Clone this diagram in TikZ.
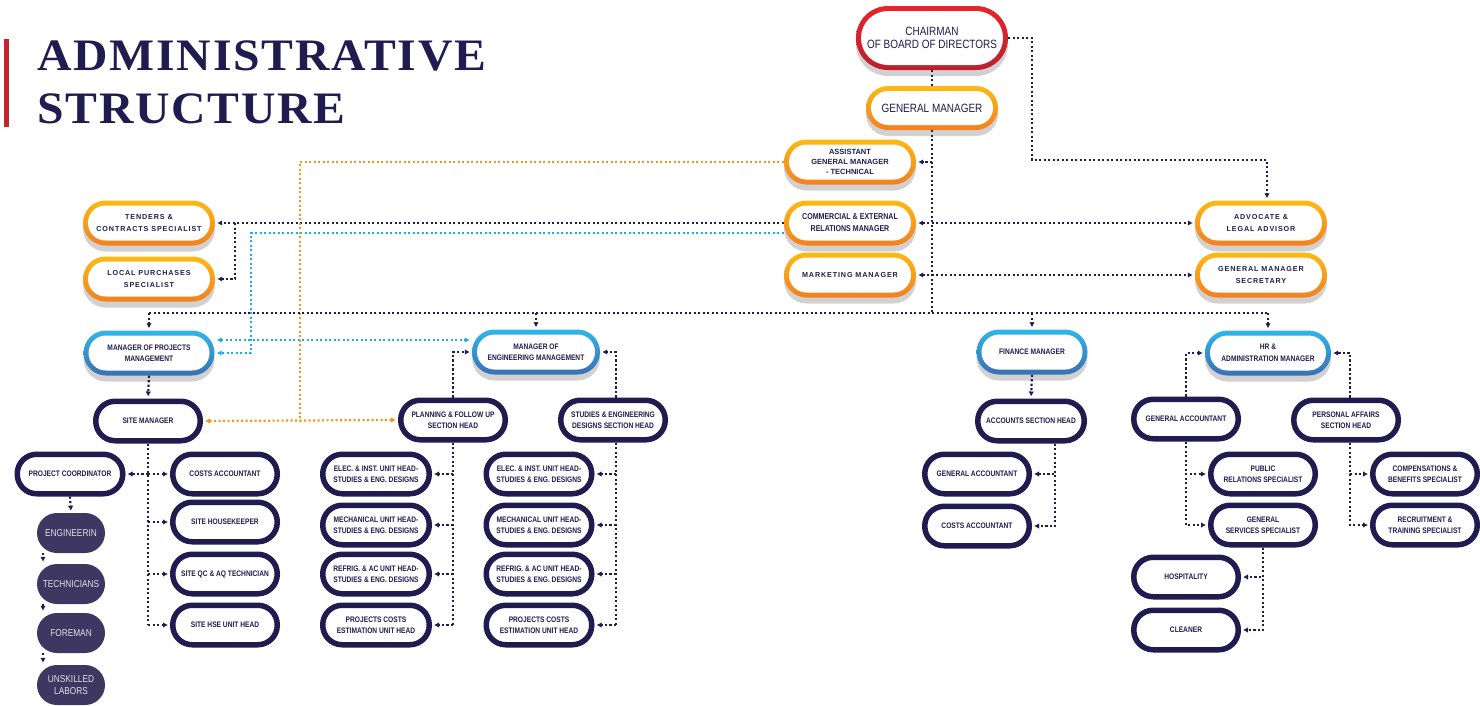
\documentclass[tikz,border=0pt]{standalone}
\usepackage{fontspec}
\setmainfont{Liberation Sans}
\newfontfamily\condfont[FakeStretch=0.83]{Liberation Sans}
\newfontfamily\widefont[LetterSpace=12]{Liberation Sans}
\newfontfamily\titlefont[FakeStretch=1.06,LetterSpace=4]{Liberation Serif}
\usetikzlibrary{arrows.meta, shadows}

\definecolor{navy}{HTML}{201C4F}
\definecolor{plum}{HTML}{3D3762}
\definecolor{barred}{HTML}{C0272D}
\definecolor{redtop}{HTML}{E6262B}
\definecolor{redbot}{HTML}{BD1E2C}
\definecolor{oyel}{HTML}{FDB913}
\definecolor{oorg}{HTML}{F3801F}
\definecolor{lblue}{HTML}{2FB6E9}
\definecolor{dblue}{HTML}{3A70B6}
\definecolor{olink}{HTML}{F7941D}
\definecolor{clink}{HTML}{1DADE6}

\tikzset{
  gbox/.style n args={4}{rectangle, rounded corners=#2/2*1pt, minimum width=#1*1pt, minimum height=#2*1pt,
    inner sep=0pt, align=center, text=navy, top color=#3, bottom color=#4,
    drop shadow={shadow xshift=0pt, shadow yshift=-6pt, opacity=.18, fill=black},
    path picture={\node[rectangle, fill=white, rounded corners=(#2-10)/2*1pt, minimum width=(#1-10)*1pt,
      minimum height=(#2-10)*1pt, inner sep=0pt] at (path picture bounding box.center) {};}},
  redbox/.style={gbox={152}{64}{redtop}{redbot}},
  orbox/.style={gbox={132}{#1}{oyel}{oorg}},
  orbox/.default=45,
  blbox/.style={gbox={#1}{45}{lblue}{dblue}},
  dkbox/.style={rectangle, rounded corners=19.5pt, draw=navy, line width=5.5pt, fill=white,
    minimum width=#1*1pt-5.5pt, minimum height=39.5pt, inner sep=0pt, align=center, text=navy, cond},
  dkbox/.default=110,
  plbox/.style={rectangle, rounded corners=20pt, fill=plum, minimum width=68pt, minimum height=40pt,
    inner sep=0pt, align=center, text=white!85!plum, font=\condfont\fontsize{10}{11.5}\selectfont},
  titletext/.style={anchor=base west, inner sep=0pt, text=navy, font=\titlefont\bfseries\fontsize{45}{48}\selectfont},
  bigtext/.style={font=\condfont\fontsize{12}{13}\selectfont},
  agmtext/.style={font=\bfseries\fontsize{7.5}{10}\selectfont},
  comtext/.style={font=\condfont\bfseries\fontsize{8.5}{12}\selectfont},
  widetext/.style={font=\widefont\bfseries\fontsize{7.2}{12}\selectfont},
  cond/.style={font=\condfont\bfseries\fontsize{8}{11.5}\selectfont},
  link/.style={navy, line width=2.2pt, dash pattern=on 2.2pt off 2.3pt},
  blink/.style={link, clink},
  olnk/.style={link, olink},
  arr/.style={-{Latex[length=5pt,width=5.5pt]}, shorten >=2pt},
  darr/.style={{Latex[length=5pt,width=5.5pt]}-{Latex[length=5pt,width=5.5pt]}, shorten >=2pt, shorten <=2pt}
}

\begin{document}
\begin{tikzpicture}[x=1pt, y=-1pt]
\useasboundingbox (0,0) rectangle (1480,705);

\fill[barred] (4,39) rectangle (9,127);
\node[titletext] (title1) at (37,70) {ADMINISTRATIVE};
\node[titletext] (title2) at (37,123) {STRUCTURE};

\node[redbox, bigtext] (chair) at (932,38) {CHAIRMAN\\OF BOARD OF DIRECTORS};
\node[orbox=44, bigtext] (gm) at (932,108) {GENERAL MANAGER};
\node[orbox, agmtext] (agm) at (850,162) {ASSISTANT\\GENERAL MANAGER\\- TECHNICAL};
\node[orbox, comtext] (com) at (850,223) {COMMERCIAL \& EXTERNAL\\RELATIONS MANAGER};
\node[orbox, widetext] (mkt) at (850,275) {MARKETING MANAGER};
\node[orbox, widetext] (adv) at (1261,223) {ADVOCATE \&\\LEGAL ADVISOR};
\node[orbox, widetext] (sec) at (1261,275) {GENERAL MANAGER\\SECRETARY};
\node[orbox, widetext] (ten) at (149,223) {TENDERS \&\\CONTRACTS SPECIALIST};
\node[orbox, widetext] (lp) at (149,279) {LOCAL PURCHASES\\SPECIALIST};

\node[blbox=131, cond] (pm) at (149,353) {MANAGER OF PROJECTS\\MANAGEMENT};
\node[blbox=128, cond] (em) at (536,352) {MANAGER OF\\ENGINEERING MANAGEMENT};
\node[blbox=111, cond] (fm) at (1032,352) {FINANCE MANAGER};
\node[blbox=126, cond] (hr) at (1268,353) {HR \&\\ADMINISTRATION MANAGER};

\node[dkbox] (sm) at (148,421) {SITE MANAGER};
\node[dkbox] (pl) at (453,420) {PLANNING \& FOLLOW UP\\SECTION HEAD};
\node[dkbox] (st) at (613,420) {STUDIES \& ENGINEERING\\DESIGNS SECTION HEAD};
\node[dkbox=112] (ash) at (1031,421) {ACCOUNTS SECTION HEAD};
\node[dkbox] (hga) at (1186,419) {GENERAL ACCOUNTANT};
\node[dkbox] (pa) at (1346,420) {PERSONAL AFFAIRS\\SECTION HEAD};

\node[dkbox=111] (pc) at (70,474) {PROJECT COORDINATOR};
\node[dkbox] (ca) at (225,474) {COSTS ACCOUNTANT};
\node[dkbox] (shk) at (225,522) {SITE HOUSEKEEPER};
\node[dkbox] (sqc) at (225,574) {SITE QC \& AQ TECHNICIAN};
\node[dkbox] (hse) at (225,625) {SITE HSE UNIT HEAD};

\node[plbox] (eng) at (71,533) {ENGINEERIN};
\node[plbox] (tech) at (71,584) {TECHNICIANS};
\node[plbox] (fore) at (71,633) {FOREMAN};
\node[plbox] (unsk) at (71,685) {UNSKILLED\\LABORS};

\node[dkbox=112] (pe) at (376,474) {ELEC. \& INST. UNIT HEAD-\\STUDIES \& ENG. DESIGNS};
\node[dkbox=112] (pmh) at (376,525) {MECHANICAL UNIT HEAD-\\STUDIES \& ENG. DESIGNS};
\node[dkbox=112] (pr) at (376,574) {REFRIG. \& AC UNIT HEAD-\\STUDIES \& ENG. DESIGNS};
\node[dkbox=112] (pcost) at (376,625) {PROJECTS COSTS\\ESTIMATION UNIT HEAD};
\node[dkbox=111] (se) at (539,474) {ELEC. \& INST. UNIT HEAD-\\STUDIES \& ENG. DESIGNS};
\node[dkbox=111] (smh) at (539,525) {MECHANICAL UNIT HEAD-\\STUDIES \& ENG. DESIGNS};
\node[dkbox=111] (sr) at (539,574) {REFRIG. \& AC UNIT HEAD-\\STUDIES \& ENG. DESIGNS};
\node[dkbox=111] (scost) at (539,625) {PROJECTS COSTS\\ESTIMATION UNIT HEAD};

\node[dkbox] (fga) at (977,474) {GENERAL ACCOUNTANT};
\node[dkbox] (fca) at (977,526) {COSTS ACCOUNTANT};
\node[dkbox] (prs) at (1263,474) {PUBLIC\\RELATIONS SPECIALIST};
\node[dkbox] (gss) at (1263,525) {GENERAL\\SERVICES SPECIALIST};
\node[dkbox] (hosp) at (1186,577) {HOSPITALITY};
\node[dkbox] (cln) at (1186,630) {CLEANER};
\node[dkbox] (cbs) at (1425,474) {COMPENSATIONS \&\\BENEFITS SPECIALIST};
\node[dkbox] (rts) at (1425,525) {RECRUITMENT \&\\TRAINING SPECIALIST};

\coordinate (hub) at (932,313);
\coordinate (c1) at (1032,160);
\coordinate (tb) at (235,223);
\coordinate (bl) at (251,353);
\coordinate (oj) at (300,421);

\draw[link] (chair.south) -- (gm.north);
\draw[link, arr] (chair.east) -| (c1) -| ([xshift=6pt]adv.north);
\draw[link] (gm.south) -- (hub);
\draw[link, arr] (gm.south |- agm.east) -- (agm.east);
\draw[link, darr] (com.east) -- (adv.west);
\draw[link, darr] (mkt.east) -- (sec.west);
\draw[link, arr] (com.west) -- (ten.east);
\draw[link, arr] (tb) |- (lp.east);
\draw[blink, arr] ([yshift=-10pt]com.west) -| (bl) -- (pm.east);
\draw[blink, darr] ([yshift=13pt]pm.east) -- ([yshift=12pt]em.west);
\draw[olnk] (agm.west) -| (oj);
\draw[olnk, darr] (sm.east) -- (pl.west);

\draw[link] (pm.north |- hub) -- (hr.north |- hub);
\draw[link, arr] (pm.north |- hub) -- (pm.north);
\draw[link, arr] (em.north |- hub) -- (em.north);
\draw[link, arr] (fm.north |- hub) -- (fm.north);
\draw[link, arr] (hr.north |- hub) -- (hr.north);

\draw[link, arr] (pm.south) -- (sm.north);
\draw[link, arr] (pl.north) |- (em.west);
\draw[link, arr] ([xshift=3pt]st.north) |- (em.east);

\draw[link] (sm.south) -- (sm.south |- hse.west);
\draw[link, arr] (sm.south |- pc.east) -- (pc.east);
\draw[link, arr] (sm.south |- ca.west) -- (ca.west);
\draw[link, arr] (sm.south |- shk.west) -- (shk.west);
\draw[link, arr] (sm.south |- sqc.west) -- (sqc.west);
\draw[link, arr] (sm.south |- hse.west) -- (hse.west);

\draw[link, arr] (pc.south) -- (eng.north);
\draw[link, arr] ([xshift=-28pt]eng.south) -- ([xshift=-28pt]tech.north);
\draw[link, arr] ([xshift=-28pt]tech.south) -- ([xshift=-28pt]fore.north);
\draw[link, arr] ([xshift=-28pt]fore.south) -- ([xshift=-28pt]unsk.north);

\draw[link] (pl.south) -- (pl.south |- pcost.east);
\draw[link, arr] (pl.south |- pe.east) -- (pe.east);
\draw[link, arr] (pl.south |- pmh.east) -- (pmh.east);
\draw[link, arr] (pl.south |- pr.east) -- (pr.east);
\draw[link, arr] (pl.south |- pcost.east) -- (pcost.east);

\draw[link] ([xshift=3pt]st.south) -- ([xshift=3pt]st.south |- scost.east);
\draw[link, arr] ([xshift=3pt]st.south |- se.east) -- (se.east);
\draw[link, arr] ([xshift=3pt]st.south |- smh.east) -- (smh.east);
\draw[link, arr] ([xshift=3pt]st.south |- sr.east) -- (sr.east);
\draw[link, arr] ([xshift=3pt]st.south |- scost.east) -- (scost.east);

\draw[link, arr] (fm.south) -- (ash.north);
\draw[link, arr] ([xshift=24pt]ash.south) |- (fga.east);
\draw[link, arr] ([xshift=24pt]ash.south) |- (fca.east);

\draw[link, arr] (hga.north) |- (hr.west);
\draw[link, arr] ([xshift=4pt]pa.north) |- (hr.east);
\draw[link, arr] (hga.south) |- (prs.west);
\draw[link, arr] (hga.south) |- (gss.west);
\draw[link, arr] (gss.south) |- (hosp.east);
\draw[link, arr] (gss.south) |- (cln.east);
\draw[link, arr] ([xshift=4pt]pa.south) |- (cbs.west);
\draw[link, arr] ([xshift=4pt]pa.south) |- (rts.west);
\end{tikzpicture}
\end{document}
